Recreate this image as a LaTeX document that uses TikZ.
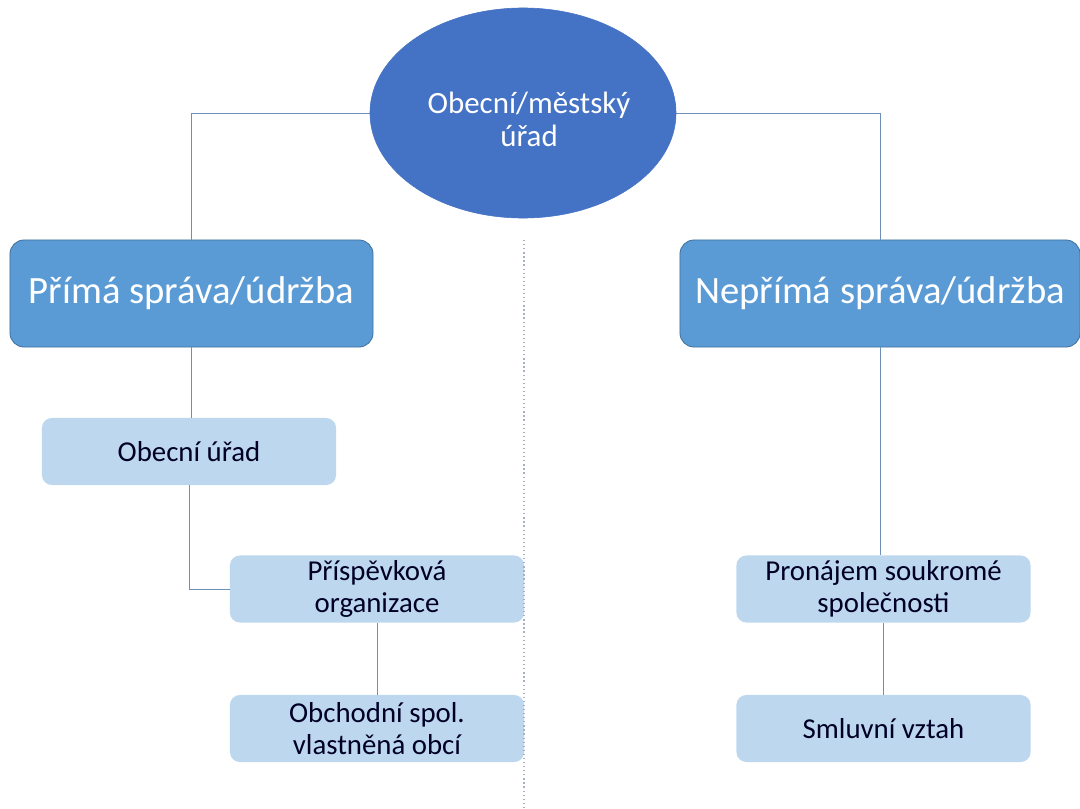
\documentclass[tikz,border=0pt]{standalone}
\usepackage{fontspec}
\setmainfont{Carlito}
\usetikzlibrary{shapes.geometric}
\definecolor{ellblue}{HTML}{4472C4}
\definecolor{bigblue}{HTML}{5B9BD5}
\definecolor{bigborder}{HTML}{41719C}
\definecolor{smallblue}{HTML}{BDD7EE}
\definecolor{linecol}{HTML}{6E8FB8}
\definecolor{dotcol}{HTML}{A8B0C0}
\tikzset{
  topell/.style={ellipse, fill=ellblue, draw=ellblue, minimum width=7.65cm, minimum height=5.25cm, inner sep=0pt},
  elltext/.style={align=center, text=white, inner sep=0pt, font=\fontsize{22}{23.5}\selectfont},
  bigbox/.style={rectangle, rounded corners=10pt, fill=bigblue, draw=bigborder, line width=0.6pt, minimum height=2.675cm, text=white, font=\fontsize{27.5}{30}\selectfont},
  smallbox/.style={rectangle, rounded corners=7pt, fill=smallblue, draw=none, minimum width=7.35cm, minimum height=1.675cm, inner sep=0pt, align=center, text=black!85!blue, font=\fontsize{20.5}{22.5}\selectfont},
  conn/.style={draw=linecol, line width=0.7pt},
  divider/.style={draw=dotcol, line width=0.9pt, dotted}
}
\begin{document}
\begin{tikzpicture}[x=0.025cm,y=-0.025cm]
\useasboundingbox (0,0) rectangle (1080,809);
\node[topell] (urad) at (523,113) {};
\node[elltext] (uradtxt) at (529,119) {Obecní/městský\\úřad};
\node[bigbox, minimum width=9.075cm] (prima) at (191.5,293.5) {Přímá správa/údržba};
\node[bigbox, minimum width=10cm] (neprima) at (880,293.5) {Nepřímá správa/údržba};
\node[smallbox] (obec) at (189,451.5) {Obecní úřad};
\node[smallbox] (prisp) at (377,589) {Příspěvková\\organizace};
\node[smallbox] (obch) at (377,728.5) {Obchodní spol.\\vlastněná obcí};
\node[smallbox] (pron) at (883.5,589) {Pronájem soukromé\\společnosti};
\node[smallbox] (smlu) at (883.5,728.5) {Smluvní vztah};
\coordinate (divtop) at (524,240);
\coordinate (divbot) at (524,809);
\draw[conn] (urad.west) -| (prima.north);
\draw[conn] (urad.east) -| (neprima.north);
\draw[conn] (prima.south) -- (prima.south |- obec.north);
\draw[conn] (obec.south) |- (prisp.west);
\draw[conn] (prisp.south) -- (obch.north);
\draw[conn] (neprima.south) -- (neprima.south |- pron.north);
\draw[conn] (pron.south) -- (pron.south |- smlu.north);
\draw[divider] (divtop) -- (divbot);
\end{tikzpicture}
\end{document}
